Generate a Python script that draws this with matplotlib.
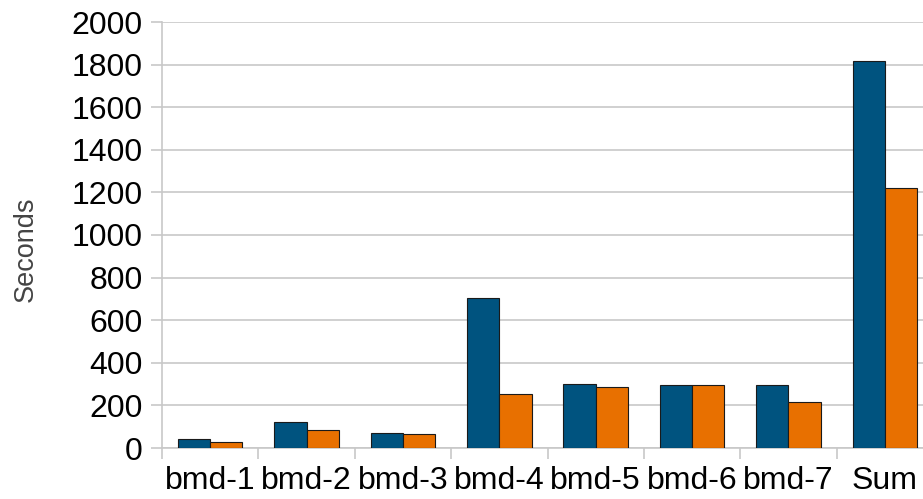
import numpy as np
import matplotlib.pyplot as plt

plt.rcParams['font.family'] = ['Liberation Sans', 'DejaVu Sans']

categories = ["bmd-1", "bmd-2", "bmd-3", "bmd-4", "bmd-5", "bmd-6", "bmd-7", "Sum"]
series_a = [40, 120, 71, 706, 300, 298, 295, 1815]
series_b = [28, 85, 68, 253, 286, 294, 214, 1219]

blue = "#00537f"
orange = "#e87000"
grid_grey = "#c8c8c8"

fig = plt.figure(figsize=(9.23, 4.99), dpi=100)
# axes runs slightly past the right edge of the figure
ax = fig.add_axes([162 / 923, 1 - 448 / 499, 771 / 923, 426 / 499])

x = np.arange(len(categories))
w = 0.335
ax.bar(x - w / 2, series_a, width=w, color=blue, edgecolor="#1a1a1a", linewidth=0.8, zorder=3)
ax.bar(x + w / 2, series_b, width=w, color=orange, edgecolor="#1a1a1a", linewidth=0.8, zorder=3)

ax.set_xlim(-0.5, len(categories) - 0.5)
ax.set_ylim(0, 2000)
ax.set_yticks(range(0, 2001, 200))

# category boundaries get the tick marks, labels sit at the centres
ax.set_xticks(np.arange(-0.5, len(categories), 1.0))
ax.set_xticklabels([])
ax.set_xticks(x, minor=True)
ax.set_xticklabels(categories, minor=True)
ax.tick_params(axis="x", which="major", length=8, color=grid_grey, width=1.2)
ax.tick_params(axis="x", which="minor", length=0, pad=13, labelsize=23)
ax.tick_params(axis="y", length=8, color=grid_grey, width=1.2, pad=6, labelsize=23)

ax.yaxis.grid(True, color=grid_grey, linewidth=1.2, zorder=0)
for side in ("top", "right"):
    ax.spines[side].set_visible(False)
for side in ("left", "bottom"):
    ax.spines[side].set_color(grid_grey)
    ax.spines[side].set_linewidth(1.2)

fig.text(26 / 923, 1 - 249 / 499, "Seconds", rotation=90, ha="center", va="center",
         fontsize=19.5, color="#444444")

fig.savefig("out.png", dpi=100)
